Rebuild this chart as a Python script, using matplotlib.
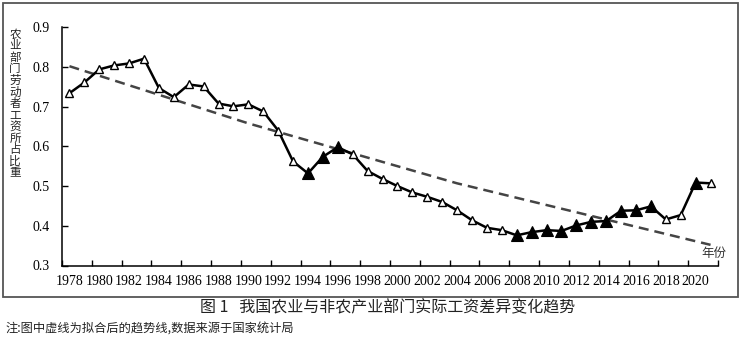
import matplotlib
matplotlib.use("Agg")
import matplotlib.pyplot as plt
from matplotlib.patches import Rectangle

# share of agricultural wages
years = list(range(1978, 2022))
share = [0.734, 0.761, 0.794, 0.804, 0.809, 0.821, 0.747, 0.724, 0.756, 0.751,
         0.708, 0.701, 0.706, 0.688, 0.640, 0.562, 0.532, 0.574, 0.598, 0.580,
         0.538, 0.518, 0.500, 0.484, 0.473, 0.460, 0.439, 0.414, 0.395, 0.389,
         0.376, 0.384, 0.389, 0.387, 0.401, 0.410, 0.412, 0.438, 0.439, 0.449,
         0.416, 0.427, 0.509, 0.507]
filled_years = [1994, 1995, 1996, 2008, 2009, 2010, 2011, 2012, 2013, 2014,
                2015, 2016, 2017, 2020]
# fitted trend (dashed), read at a few points
trend_years = [1978, 1990, 2004, 2021]
trend_share = [0.802, 0.658, 0.507, 0.352]

xtick_labels = [str(y) for y in range(1978, 2021, 2)]
ytick_vals = [0.3, 0.4, 0.5, 0.6, 0.7, 0.8, 0.9]
ylabel = "农业部门劳动者工资所占比重"
caption = "图 1   我国农业与非农产业部门实际工资差异变化趋势"
note = "注:图中虚线为拟合后的趋势线,数据来源于国家统计局"

SERIF = "Liberation Serif"
CJK = ["Noto Sans CJK SC", "DejaVu Sans"]
W, H = 741, 340

fig = plt.figure(figsize=(W / 100, H / 100), dpi=100)
ax = fig.add_axes([62 / W, 1 - 265.5 / H, 656 / W, 238.2 / H])

ax.plot(trend_years, trend_share, ls=(0, (4.0, 2.4)), color="#444444", lw=1.8, zorder=2)
ax.plot(years, share, color="black", lw=1.8, zorder=3)
hx = [y for y in years if y not in filled_years]
hy = [v for y, v in zip(years, share) if y not in filled_years]
fx = [y for y in years if y in filled_years]
fy = [v for y, v in zip(years, share) if y in filled_years]
ax.plot(hx, hy, ls="none", marker="^", ms=6, mfc="white", mec="black", mew=1.0, zorder=4)
ax.plot(fx, fy, ls="none", marker="^", ms=8.5, mfc="black", mec="black", mew=0.8, zorder=4)

ax.set_xlim(1977.5, 2021.5)
ax.set_ylim(0.3, 0.9)
ax.set_xticks(range(1978, 2021, 2))
ax.set_xticklabels(xtick_labels, fontfamily=SERIF, fontsize=10)
ax.set_xticks([y + 0.5 for y in range(1977, 2022, 2)], minor=True)
ax.tick_params(axis="x", which="major", length=0, pad=7)
ax.tick_params(axis="x", which="minor", direction="in", length=4, width=1)
ax.set_yticks(ytick_vals)
ax.set_yticklabels([f"{v:.1f}" for v in ytick_vals], fontfamily=SERIF, fontsize=10)
ax.tick_params(axis="y", direction="in", length=4, width=1, pad=9)
for s in ("top", "right"):
    ax.spines[s].set_visible(False)
for s in ("left", "bottom"):
    ax.spines[s].set_linewidth(1.1)

ax.text(2021.2, 0.33, "年份", fontfamily=CJK, fontsize=9, color="#333333",
        ha="center", va="center")

# vertical y label, one upright character per line
for i, ch in enumerate(ylabel):
    fig.text(15 / W, 1 - (34 + i * 11.6) / H, ch, fontfamily=CJK, fontsize=8.3,
             ha="center", va="center", color="#222222")

fig.patches.append(Rectangle((3 / W, 1 - 297 / H), 735 / W, 294 / H, transform=fig.transFigure,
                             fill=False, ec="#555555", lw=1.3))

fig.text(388 / W, 1 - 308 / H, caption, fontfamily=CJK, fontsize=11.5, ha="center", va="center",
         color="#222222")
fig.text(5 / W, 1 - 329 / H, note, fontfamily=CJK, fontsize=8.8, ha="left", va="center",
         color="#222222")

fig.savefig("out.png", dpi=100)
plt.close(fig)
